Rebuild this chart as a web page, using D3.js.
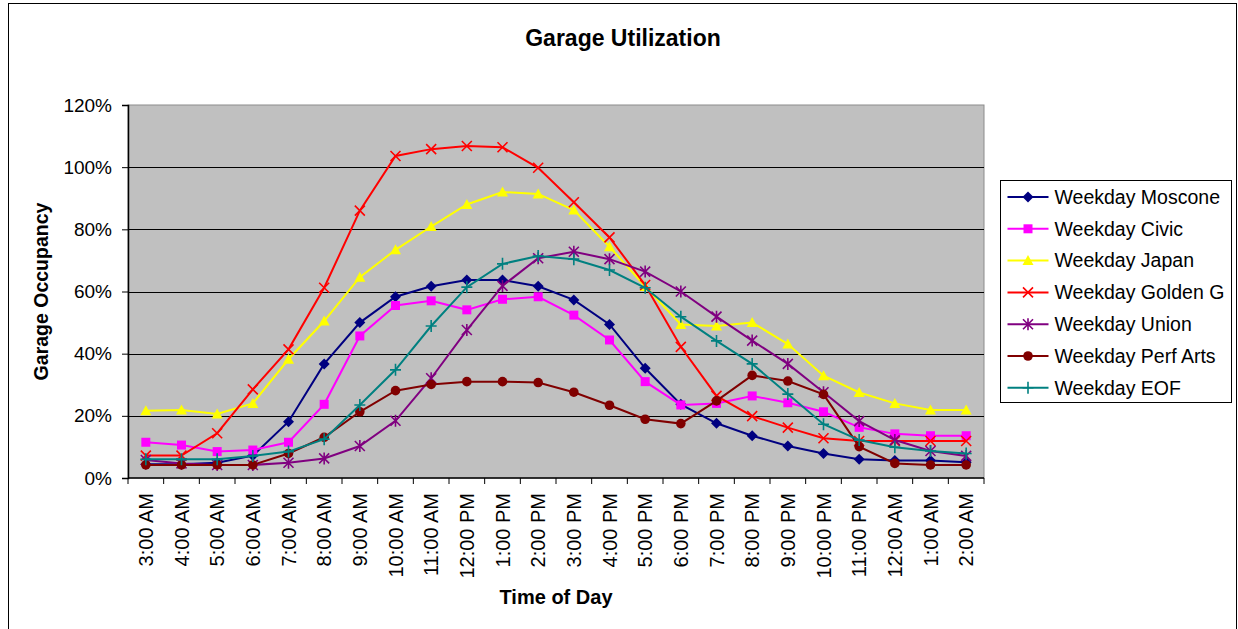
<!DOCTYPE html>
<html>
<head>
<meta charset="utf-8">
<script src="https://cdn.jsdelivr.net/npm/d3@7"></script>
<style>
    body { margin: 0; background: #fff; }
    text { font-family: "Liberation Sans", Arial, sans-serif; fill: #000; }
</style>
</head>
<body>
<svg width="1238" height="629"></svg>
<script>
var times = ["3:00 AM", "4:00 AM", "5:00 AM", "6:00 AM", "7:00 AM", "8:00 AM", "9:00 AM", "10:00 AM",
    "11:00 AM", "12:00 PM", "1:00 PM", "2:00 PM", "3:00 PM", "4:00 PM", "5:00 PM", "6:00 PM",
    "7:00 PM", "8:00 PM", "9:00 PM", "10:00 PM", "11:00 PM", "12:00 AM", "1:00 AM", "2:00 AM"];

var yTicks = [0, 20, 40, 60, 80, 100, 120];

var moscone = [4.4, 4.4, 4.9, 7.2, 18.1, 36.7, 50.0, 58.3, 61.7, 63.7, 63.7, 61.7, 57.3, 49.4, 35.3, 23.7, 17.6, 13.6, 10.3, 7.9, 6.0, 5.6, 5.6, 5.1];
var civic = [11.5, 10.6, 8.5, 9.0, 11.5, 23.7, 45.7, 55.5, 57.0, 54.1, 57.5, 58.3, 52.4, 44.4, 31.0, 23.5, 24.0, 26.4, 24.2, 21.3, 16.3, 14.2, 13.6, 13.6];
var japan = [21.6, 21.9, 20.6, 24.0, 38.2, 50.5, 64.6, 73.4, 80.9, 88.0, 92.0, 91.4, 86.2, 74.4, 61.6, 49.4, 48.9, 50.0, 43.1, 32.9, 27.5, 24.0, 21.9, 21.9];
var goldenGate = [7.2, 7.2, 14.4, 28.5, 41.4, 61.2, 86.0, 103.6, 105.8, 106.8, 106.4, 99.8, 88.7, 77.4, 62.1, 42.2, 26.4, 19.9, 16.2, 12.8, 11.9, 11.9, 11.9, 11.9];
var union = [5.8, 4.7, 4.2, 4.2, 4.9, 6.3, 10.3, 18.4, 32.1, 47.6, 61.8, 70.7, 72.8, 70.4, 66.4, 60.0, 51.9, 44.2, 36.7, 27.6, 18.3, 12.2, 8.7, 7.1];
var perfArts = [4.2, 4.2, 4.2, 4.2, 7.9, 13.1, 21.3, 28.1, 30.1, 31.0, 31.0, 30.7, 27.6, 23.4, 18.9, 17.5, 24.8, 33.0, 31.2, 26.9, 10.1, 4.7, 4.2, 4.2];
var eof = [6.0, 6.0, 6.0, 7.1, 8.5, 12.5, 23.5, 34.8, 48.9, 61.4, 68.9, 71.4, 70.4, 66.9, 61.2, 51.9, 44.1, 36.7, 27.0, 17.3, 12.2, 9.9, 8.7, 7.9];

var seriesNames = ["Weekday Moscone", "Weekday Civic", "Weekday Japan", "Weekday Golden G", "Weekday Union", "Weekday Perf Arts", "Weekday EOF"];
var seriesValues = [moscone, civic, japan, goldenGate, union, perfArts, eof];
var seriesColors = ["#000080", "#ff00ff", "#ffff00", "#ff0000", "#800080", "#800000", "#008080"];
var seriesMarkers = ["diamond", "square", "triangle", "x", "star", "circle", "plus"];

var svg = d3.select("svg");
var plot = { left: 128, right: 984, top: 105, bottom: 478 };

// outer chart border
svg.append("rect")
    .attr("x", 8.5).attr("y", 3.5)
    .attr("width", 1228).attr("height", 660)
    .attr("fill", "#fff")
    .attr("stroke", "#000");

var x = d3.scaleBand()
    .domain(times)
    .range([plot.left, plot.right]);

var y = d3.scaleLinear()
    .domain([0, 120])
    .range([plot.bottom, plot.top]);

function cx(d) { return x(d) + x.bandwidth() / 2; }

svg.append("rect")
    .attr("x", plot.left).attr("y", plot.top)
    .attr("width", plot.right - plot.left)
    .attr("height", plot.bottom - plot.top)
    .attr("fill", "#c0c0c0")
    .attr("stroke", "#8c8c8c");

// gridlines
svg.append("g")
    .selectAll("line")
    .data(yTicks.filter(function (d) { return d > 0 && d < 120; }))
    .enter().append("line")
    .attr("x1", plot.left).attr("x2", plot.right)
    .attr("y1", function (d) { return Math.round(y(d)) + 0.5; })
    .attr("y2", function (d) { return Math.round(y(d)) + 0.5; })
    .attr("stroke", "#000")
    .attr("stroke-width", 1.2);

// y axis
var yAxis = svg.append("g")
    .attr("transform", "translate(" + plot.left + ",0)")
    .call(d3.axisLeft(y).tickValues(yTicks).tickSize(6).tickPadding(10)
        .tickFormat(function (d) { return d + "%"; }));
yAxis.select(".domain").attr("stroke", "#000").attr("stroke-width", 1.5);
yAxis.selectAll("line").attr("stroke", "#000");
yAxis.selectAll("text")
    .attr("font-size", "19px")
    .attr("font-family", "Liberation Sans, Arial, sans-serif")
    .attr("fill", "#000");

// x axis: ticks on category boundaries
var xAxis = svg.append("g");
xAxis.append("line")
    .attr("x1", plot.left).attr("x2", plot.right)
    .attr("y1", plot.bottom).attr("y2", plot.bottom)
    .attr("stroke", "#000").attr("stroke-width", 1.5);
xAxis.selectAll(".tick")
    .data(times.concat([null]))
    .enter().append("line")
    .attr("x1", function (d) { return d === null ? plot.right : x(d); })
    .attr("x2", function (d) { return d === null ? plot.right : x(d); })
    .attr("y1", plot.bottom).attr("y2", plot.bottom + 6)
    .attr("stroke", "#000");
xAxis.selectAll(".lbl")
    .data(times)
    .enter().append("text")
    .attr("transform", function (d) { return "translate(" + cx(d) + ",493) rotate(-90)"; })
    .attr("text-anchor", "end")
    .attr("dy", "0.35em")
    .attr("font-size", "20px")
    .text(function (d) { return d; });

// lines + markers
var line = d3.line()
    .x(function (d, i) { return cx(times[i]); })
    .y(function (d) { return y(d); });

function markerPath(type) {
    switch (type) {
        case "diamond": return "M0,-5.5L5.5,0L0,5.5L-5.5,0Z";
        case "square": return "M-4.5,-4.5H4.5V4.5H-4.5Z";
        case "triangle": return "M0,-5.5L5.5,4.5L-5.5,4.5Z";
        case "x": return "M-5,-5L5,5M-5,5L5,-5";
        case "star": return "M-5,-5L5,5M-5,5L5,-5M0,-6V6";
        case "plus": return "M-5.5,0H5.5M0,-6V6";
    }
    return null;
}

function addMarker(sel, type, color) {
    if (type === "circle") {
        sel.append("circle").attr("r", 4.8).attr("fill", color);
    } else if (type === "x" || type === "star" || type === "plus") {
        sel.append("path").attr("d", markerPath(type))
            .attr("fill", "none").attr("stroke", color).attr("stroke-width", 1.6);
    } else {
        sel.append("path").attr("d", markerPath(type)).attr("fill", color);
    }
}

seriesValues.forEach(function (vals, s) {
    var g = svg.append("g");
    g.append("path")
        .datum(vals)
        .attr("d", line)
        .attr("fill", "none")
        .attr("stroke", seriesColors[s])
        .attr("stroke-width", 2);
    g.selectAll("g")
        .data(vals)
        .enter().append("g")
        .attr("transform", function (d, i) { return "translate(" + cx(times[i]) + "," + y(d) + ")"; })
        .each(function () { addMarker(d3.select(this), seriesMarkers[s], seriesColors[s]); });
});

// title and axis titles
svg.append("text")
    .attr("x", 623).attr("y", 46)
    .attr("text-anchor", "middle")
    .attr("font-size", "23px")
    .attr("font-weight", "bold")
    .text("Garage Utilization");

svg.append("text")
    .attr("x", (plot.left + plot.right) / 2).attr("y", 604)
    .attr("text-anchor", "middle")
    .attr("font-size", "20px")
    .attr("font-weight", "bold")
    .text("Time of Day");

svg.append("text")
    .attr("transform", "translate(48," + (plot.top + plot.bottom) / 2 + ") rotate(-90)")
    .attr("text-anchor", "middle")
    .attr("font-size", "19.5px")
    .attr("font-weight", "bold")
    .text("Garage Occupancy");

// legend
var legend = svg.append("g").attr("transform", "translate(1000.5,180.5)");
legend.append("rect")
    .attr("width", 231).attr("height", 222)
    .attr("fill", "#fff").attr("stroke", "#000");

var rows = legend.selectAll(".row")
    .data(seriesNames)
    .enter().append("g")
    .attr("transform", function (d, i) { return "translate(0," + (16.5 + i * 31.8) + ")"; });
rows.append("line")
    .attr("x1", 7).attr("x2", 48)
    .attr("stroke", function (d, i) { return seriesColors[i]; })
    .attr("stroke-width", 2);
rows.append("g")
    .attr("transform", "translate(27.5,0)")
    .each(function (d, i) { addMarker(d3.select(this), seriesMarkers[i], seriesColors[i]); });
rows.append("text")
    .attr("x", 54)
    .attr("dy", "0.35em")
    .attr("font-size", "19.5px")
    .text(function (d) { return d; });
</script>
</body>
</html>
